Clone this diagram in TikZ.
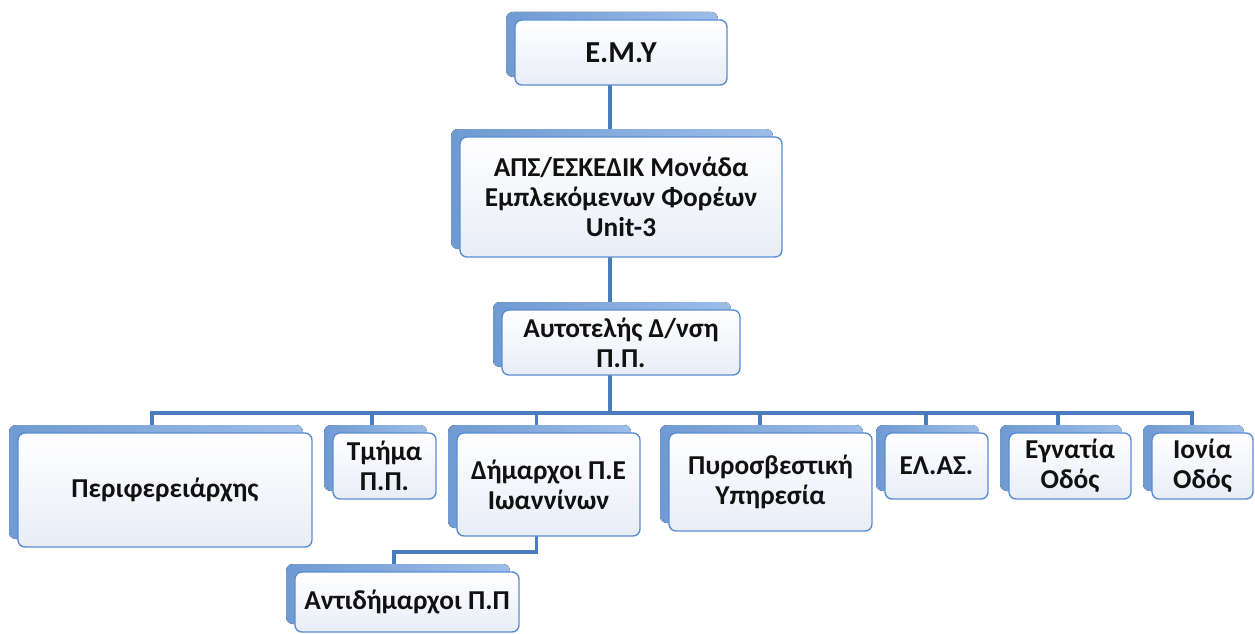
\documentclass[tikz,border=0pt]{standalone}
\usepackage{fontspec}
\setmainfont{Carlito}
\usetikzlibrary{shadows,backgrounds,calc}
\definecolor{backL}{HTML}{6F9AD2}
\definecolor{backR}{HTML}{9DBDE8}
\definecolor{frameB}{HTML}{5B8DD3}
\definecolor{fillB}{HTML}{E8EDF6}
\definecolor{connB}{HTML}{4A7DBE}
\definecolor{txt}{HTML}{111111}
\begin{document}
\begin{tikzpicture}[x=1pt,y=-1pt,
  orgbox/.style={draw=frameB, line width=1.4pt, rounded corners=7pt,
    top color=white, bottom color=fillB, text=txt, align=center,
    font=\bfseries\fontsize{27.3}{30}\selectfont, inner sep=0pt,
    copy shadow={shadow xshift=-9pt, shadow yshift=8pt, draw=none,
      left color=backL, right color=backR}},
  conn/.style={draw=connB, line width=3.6pt}]
\useasboundingbox (0,0) rectangle (1255,634);
% boxes
\node[orgbox, minimum width=212pt, minimum height=65pt, font=\bfseries\fontsize{30.5}{34}\selectfont] (emy) at (621,52.5) {Ε.Μ.Υ};
\node[orgbox, minimum width=322pt, minimum height=120pt] (aps) at (621,197) {ΑΠΣ/ΕΣΚΕΔΙΚ Μονάδα\\Εμπλεκόμενων Φορέων\\Unit-3};
\node[orgbox, minimum width=238pt, minimum height=65pt] (aut) at (621,342.5) {Αυτοτελής Δ/νση\\Π.Π.};
\node[orgbox, minimum width=294pt, minimum height=114pt] (per) at (165,490) {Περιφερειάρχης};
\node[orgbox, minimum width=103pt, minimum height=66pt] (tmi) at (384.5,466) {Τμήμα\\Π.Π.};
\node[orgbox, minimum width=183pt, minimum height=103pt] (dim) at (548.5,484.5) {Δήμαρχοι Π.Ε\\Ιωαννίνων};
\node[orgbox, minimum width=203pt, minimum height=98pt] (pyr) at (770.5,482) {Πυροσβεστική\\Υπηρεσία};
\node[orgbox, minimum width=103pt, minimum height=66pt] (elas) at (936.5,466) {ΕΛ.ΑΣ.};
\node[orgbox, minimum width=122pt, minimum height=66pt] (egn) at (1070,466) {Εγνατία\\Οδός};
\node[orgbox, minimum width=101pt, minimum height=66pt] (ion) at (1202.5,466) {Ιονία\\Οδός};
\node[orgbox, minimum width=224pt, minimum height=60pt] (ant) at (407,602) {Αντιδήμαρχοι Π.Π};
% connection points
\coordinate (emyc) at ([xshift=-11pt]emy.center);
\coordinate (apsc) at ([xshift=-11pt]aps.center);
\coordinate (autc) at ([xshift=-11pt]aut.center);
\coordinate (perc) at ([xshift=-13pt]per.center);
\coordinate (tmic) at ([xshift=-12.5pt]tmi.center);
\coordinate (dimc) at ([xshift=-12pt]dim.center);
\coordinate (pyrc) at ([xshift=-10.5pt]pyr.center);
\coordinate (elasc) at ([xshift=-10.5pt]elas.center);
\coordinate (egnc) at ([xshift=-12pt]egn.center);
\coordinate (ionc) at ([xshift=-10.5pt]ion.center);
\coordinate (antc) at ([xshift=-13pt]ant.center);
\coordinate (bus) at (0,413);
\coordinate (bus2) at (0,552);
\begin{scope}[on background layer]
\fill[white] (0,0) rectangle (1255,634);
\draw[conn] (emyc) -- (apsc);
\draw[conn] (apsc) -- (autc);
\draw[conn] (autc) -- (autc |- bus);
\draw[conn] (perc) -- (perc |- bus) -- (ionc |- bus) -- (ionc);
\foreach \c in {tmic,dimc,pyrc,elasc,egnc}{
  \draw[conn] (\c |- bus) -- (\c);
}
\draw[conn] (dimc) -- (dimc |- bus2) -| (antc);
\end{scope}
\end{tikzpicture}
\end{document}
